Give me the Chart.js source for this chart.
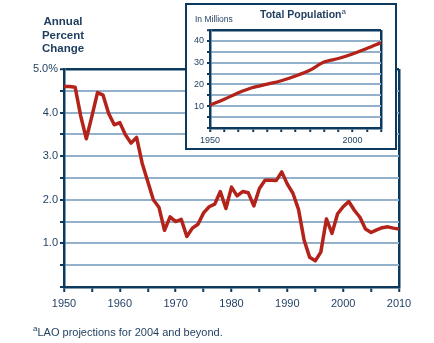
<!DOCTYPE html>
<html>
<head>
<meta charset="utf-8">
<script src="https://cdn.jsdelivr.net/npm/chart.js@4.4.0/dist/chart.umd.min.js"></script>
<style>
  html, body { margin: 0; padding: 0; background: #fff; }
  body { width: 434px; height: 343px; position: relative; overflow: hidden;
         font-family: "Liberation Sans", Arial, sans-serif; color: #1d3c5e; }
  #main { position: absolute; left: 0; top: 0; }
  #axis-title { position: absolute; left: 18px; top: 15px; width: 90px; text-align: center;
                font-weight: bold; font-size: 11.5px; line-height: 13.5px; }
  #note { position: absolute; left: 33px; top: 325.5px; font-size: 11px; line-height: 13px; white-space: nowrap; }
  .sup { position: relative; font-size: 8px; top: -5px; }
  #inset { position: absolute; left: 185px; top: 3px; width: 212px; height: 147px;
           box-sizing: border-box; border: 2px solid #0c3a5e; background: #fff; }
  #inset canvas { position: absolute; left: 0; top: 0; }
  #inset-unit { position: absolute; left: 8px; top: 8.5px; font-size: 8.5px; line-height: 10px; }
  #inset-title { position: absolute; left: 73px; top: 2.5px; font-size: 10.5px; font-weight: bold; line-height: 12px; white-space: nowrap; }
  #inset-title .sup { font-weight: normal; top: -4px; }
</style>
</head>
<body>
<canvas id="main" width="434" height="343"></canvas>
<div id="axis-title">Annual<br>Percent<br>Change</div>
<div id="inset">
  <canvas id="pop" width="208" height="143"></canvas>
  <div id="inset-unit">In Millions</div>
  <div id="inset-title">Total Population<span class="sup">a</span></div>
</div>
<div id="note"><span class="sup">a</span>LAO projections for 2004 and beyond.</div>

<script>
// Annual percent change in population, 1950-2010
const years = [
  1950, 1951, 1952, 1953, 1954, 1955, 1956, 1957, 1958, 1959,
  1960, 1961, 1962, 1963, 1964, 1965, 1966, 1967, 1968, 1969,
  1970, 1971, 1972, 1973, 1974, 1975, 1976, 1977, 1978, 1979,
  1980, 1981, 1982, 1983, 1984, 1985, 1986, 1987, 1988, 1989,
  1990, 1991, 1992, 1993, 1994, 1995, 1996, 1997, 1998, 1999,
  2000, 2001, 2002, 2003, 2004, 2005, 2006, 2007, 2008, 2009,
  2010
];
const growth = [
  4.60, 4.60, 4.58, 3.92, 3.40, 3.92, 4.46, 4.40, 3.98, 3.72,
  3.77, 3.49, 3.30, 3.43, 2.84, 2.42, 2.00, 1.83, 1.30, 1.61,
  1.50, 1.55, 1.16, 1.35, 1.44, 1.70, 1.84, 1.90, 2.19, 1.80,
  2.29, 2.09, 2.19, 2.16, 1.86, 2.26, 2.45, 2.45, 2.44, 2.64,
  2.36, 2.15, 1.78, 1.08, 0.68, 0.60, 0.80, 1.56, 1.23, 1.68,
  1.84, 1.96, 1.76, 1.60, 1.33, 1.25, 1.31, 1.36, 1.38, 1.35,
  1.33
];

// Total population (millions), every five years
const popYears = [1950, 1955, 1960, 1965, 1970, 1975, 1980, 1985, 1990, 1995, 2000, 2005, 2010];
const popMillions = [10.5, 13.2, 16.2, 18.6, 20.1, 21.7, 23.9, 26.5, 30.3, 31.9, 34.0, 36.5, 39.2];

// tick labels
const mainYearLabels = [1950, 1960, 1970, 1980, 1990, 2000, 2010];
const insetYearLabels = [1950, 2000];

const NAVY = '#0c3a5e';
const GRID = '#93b1cb';
const RED = '#b3231a';
const TEXT = '#1d3c5e';
const CLEAR = 'rgba(0,0,0,0)';
const FONT = '"Liberation Sans", Arial, sans-serif';

function toPoints(xs, ys) {
    return xs.map((x, i) => ({ x: x, y: ys[i] }));
}

function isWhole(v) {
    return Math.abs(v - Math.round(v)) < 1e-6;
}

new Chart(document.getElementById('main'), {
    type: 'line',
    data: {
        datasets: [{
            data: toPoints(years, growth),
            borderColor: RED,
            borderWidth: 3.5,
            pointRadius: 0,
            tension: 0,
            borderJoinStyle: 'round'
        }]
    },
    options: {
        responsive: false,
        animation: false,
        layout: { padding: { left: 0, right: 35, top: 69, bottom: 0 } },
        plugins: { legend: { display: false }, tooltip: { enabled: false } },
        scales: {
            x: {
                type: 'linear',
                min: 1950,
                max: 2010,
                afterFit: scale => { scale.height = 56; },
                ticks: {
                    stepSize: 5,
                    autoSkip: false,
                    maxRotation: 0,
                    padding: 5,
                    color: TEXT,
                    font: { family: FONT, size: 11 },
                    callback: v => mainYearLabels.includes(v) ? String(v) : ''
                },
                grid: {
                    color: c => c.tick && c.tick.value === 2010 ? NAVY : CLEAR,
                    lineWidth: 2.5,
                    tickColor: NAVY,
                    tickLength: 5,
                    tickWidth: 2
                },
                border: { color: NAVY, width: 2.5 }
            },
            y: {
                min: 0,
                max: 5,
                afterFit: scale => { scale.width = 64; },
                ticks: {
                    stepSize: 0.5,
                    autoSkip: false,
                    padding: 2,
                    color: TEXT,
                    font: { family: FONT, size: 11 },
                    callback: v => {
                        if (v === 0 || !isWhole(v)) return '';
                        return v === 5 ? '5.0%' : v.toFixed(1);
                    }
                },
                grid: {
                    color: c => {
                        if (!c.tick) return CLEAR;
                        if (c.tick.value === 5) return NAVY;
                        return c.tick.value === 0 ? CLEAR : GRID;
                    },
                    lineWidth: c => c.tick && c.tick.value === 5 ? 2.5 : 2,
                    tickColor: NAVY,
                    tickLength: 4,
                    tickWidth: 2
                },
                border: { color: NAVY, width: 2.5 }
            }
        }
    }
});

new Chart(document.getElementById('pop'), {
    type: 'line',
    data: {
        datasets: [{
            data: toPoints(popYears, popMillions),
            borderColor: RED,
            borderWidth: 3.3,
            pointRadius: 0,
            tension: 0.3,
            borderJoinStyle: 'round'
        }]
    },
    options: {
        responsive: false,
        animation: false,
        layout: { padding: { left: 0, right: 14, top: 25, bottom: 0 } },
        plugins: { legend: { display: false }, tooltip: { enabled: false } },
        scales: {
            x: {
                type: 'linear',
                min: 1950,
                max: 2010,
                afterFit: scale => { scale.height = 20; },
                ticks: {
                    stepSize: 5,
                    autoSkip: false,
                    maxRotation: 0,
                    padding: 3,
                    color: TEXT,
                    font: { family: FONT, size: 9 },
                    callback: v => insetYearLabels.includes(v) ? String(v) : ''
                },
                grid: {
                    color: c => c.tick && c.tick.value === 2010 ? NAVY : CLEAR,
                    lineWidth: 2.5,
                    tickColor: NAVY,
                    tickLength: 4,
                    tickWidth: 2
                },
                border: { color: NAVY, width: 2.5 }
            },
            y: {
                min: 0,
                max: 45,
                afterFit: scale => { scale.width = 23; },
                ticks: {
                    stepSize: 5,
                    autoSkip: false,
                    padding: 3,
                    color: TEXT,
                    font: { family: FONT, size: 9 },
                    callback: v => (v > 0 && v < 45 && v % 10 === 0) ? String(v) : ''
                },
                grid: {
                    color: c => {
                        if (!c.tick) return CLEAR;
                        if (c.tick.value === 45) return NAVY;
                        return c.tick.value === 0 ? CLEAR : GRID;
                    },
                    lineWidth: c => c.tick && c.tick.value === 45 ? 2.5 : 2,
                    tickColor: NAVY,
                    tickLength: 3,
                    tickWidth: 2
                },
                border: { color: NAVY, width: 2.5 }
            }
        }
    }
});
</script>
</body>
</html>
